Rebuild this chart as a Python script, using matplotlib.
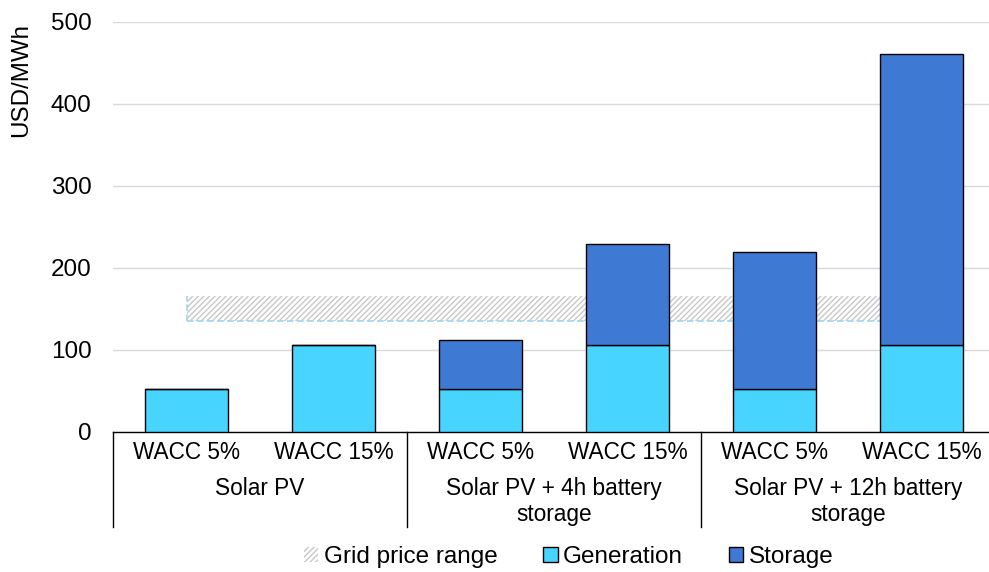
import matplotlib.pyplot as plt
from matplotlib.patches import Patch

plt.rcParams['font.family'] = ['Liberation Sans', 'DejaVu Sans']
plt.rcParams['hatch.linewidth'] = 1.0

# data
wacc_labels = ['WACC 5%', 'WACC 15%', 'WACC 5%', 'WACC 15%', 'WACC 5%', 'WACC 15%']
group_labels = [['Solar PV'], ['Solar PV + 4h battery', 'storage'],
                ['Solar PV + 12h battery', 'storage']]
generation = [52, 106, 52, 106, 52, 106]
storage = [0, 0, 60, 123, 167, 355]
grid_low = 135
grid_high = 166

gen_color = '#47D4FF'
sto_color = '#3E7AD3'

fig = plt.figure(figsize=(9.89, 5.72), dpi=100)
ax = fig.add_axes([113 / 989, 140 / 572, 882 / 989, 410 / 572])

x = list(range(len(generation)))

# grid price band behind the bars
ax.fill_between([x[0], x[-1]], grid_low, grid_high, facecolor='white',
                hatch='//////', edgecolor='#c8c8c8', linewidth=0, zorder=1)
ax.plot([x[0], x[-1]], [grid_low, grid_low], color='#9fd6ee', linestyle=(0, (4, 2)),
        linewidth=1.2, zorder=1.5)
ax.plot([x[0], x[0]], [grid_low, grid_high], color='#9fd6ee', linestyle=(0, (4, 2)),
        linewidth=1.2, zorder=1.5)

ax.bar(x, generation, width=0.57, color=gen_color, edgecolor='black', linewidth=1, zorder=3)
ax.bar(x, storage, bottom=generation, width=0.57, color=sto_color, edgecolor='black',
       linewidth=1, zorder=3)

ax.set_xlim(-0.5, 5.5)
ax.set_ylim(0, 500)
ax.set_yticks([0, 100, 200, 300, 400, 500])
ax.tick_params(axis='y', length=0, labelsize=17.5, pad=15.5)
ax.tick_params(axis='x', length=0, labelbottom=False)
ax.yaxis.grid(True, color='#d9d9d9', linewidth=1)
ax.set_axisbelow(True)
for s in ['top', 'right', 'left']:
    ax.spines[s].set_visible(False)
ax.spines['bottom'].set_color('black')
ax.spines['bottom'].set_linewidth(1)
ax.set_ylabel('USD/MWh', fontsize=17.4)
ax.yaxis.set_label_coords(-0.092, 0.8585)

# multi-level category axis
trans = ax.get_xaxis_transform()
for i, lab in enumerate(wacc_labels):
    ax.text(i, -0.0512, lab, transform=trans, ha='center', va='center', fontsize=16.3)
for g, lines in enumerate(group_labels):
    for k, line in enumerate(lines):
        ax.text(2 * g + 0.5, -0.1366 - 0.0658 * k, line, transform=trans,
                ha='center', va='center', fontsize=16.3)
for sep in [-0.5, 1.5, 3.5, 5.5]:
    ax.plot([sep, sep], [0, -0.232], transform=trans, color='black', linewidth=1,
            clip_on=False)

handles = [
    Patch(facecolor='white', edgecolor='#c8c8c8', hatch='//////', linewidth=0,
          label='Grid price range'),
    Patch(facecolor=gen_color, edgecolor='black', linewidth=1, label='Generation'),
    Patch(facecolor=sto_color, edgecolor='black', linewidth=1, label='Storage'),
]
fig.legend(handles=handles, loc='center', bbox_to_anchor=(0.575, 0.026), ncol=3,
           frameon=False, fontsize=17.5, handlelength=0.58, handleheight=0.58,
           handletextpad=0.22, columnspacing=1.9)

fig.savefig('out.png', dpi=100)
